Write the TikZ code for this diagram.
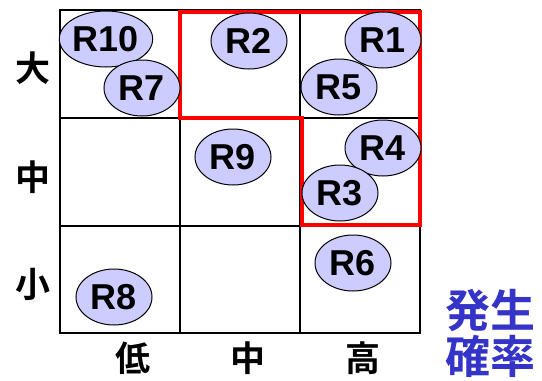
\documentclass[tikz,border=0pt]{standalone}
\usepackage{fontspec}
\setmainfont{Liberation Sans}
\newfontfamily\cjk{Noto Sans CJK JP Bold}
\usetikzlibrary{shapes.geometric}
\definecolor{rfill}{HTML}{CCCCFF}
\definecolor{lblue}{HTML}{3434C8}
\tikzset{
  risk/.style={ellipse,draw=black,line width=1pt,fill=rfill,minimum width=76pt,minimum height=56pt,inner sep=0pt,font=\fontsize{36}{36}\selectfont\bfseries},
  gridline/.style={line width=1.6pt,black},
  hl/.style={line width=4pt,red,line join=miter},
  axl/.style={font=\cjk\fontsize{35}{35}\selectfont,inner sep=0pt},
  ttl/.style={font=\cjk\fontsize{45}{48}\selectfont,text=lblue,inner sep=0pt,align=center}
}
\begin{document}
\begin{tikzpicture}[x=1pt,y=-1pt]
\useasboundingbox (0,0) rectangle (542,381);
\coordinate (g00) at (60,10);
\coordinate (g33) at (420,333);
\draw[gridline] (g00) rectangle (g33);
\draw[gridline] (180,10) -- (180,333);
\draw[gridline] (300,10) -- (300,333);
\draw[gridline] (60,118) -- (420,118);
\draw[gridline] (60,226) -- (420,226);
\draw[hl] (180,12) -- (420,12) -- (420,225) -- (302,225) -- (302,118) -- (180,118) -- cycle;
\node[risk] (r10) at (106,39) {R10};
\node[risk] (r7) at (142,88) {R7};
\node[risk] (r2) at (249,41) {R2};
\node[risk] (r9) at (233,157) {R9};
\node[risk] (r1) at (383,40) {R1};
\node[risk] (r5) at (339,87) {R5};
\node[risk] (r4) at (383,148) {R4};
\node[risk] (r3) at (340,193) {R3};
\node[risk] (r6) at (353,263) {R6};
\node[risk] (r8) at (114,297) {R8};
\node[axl] (ldai) at (33,68) {大};
\node[axl] (lchu) at (33,177) {中};
\node[axl] (lsho) at (33,284) {小};
\node[axl] (lt) at (133,358) {低};
\node[axl] (lm) at (248,358) {中};
\node[axl] (lh) at (363,358) {高};
\node[ttl] (t1) at (490,310) {発生};
\node[ttl] (t2) at (490,356) {確率};
\end{tikzpicture}
\end{document}
